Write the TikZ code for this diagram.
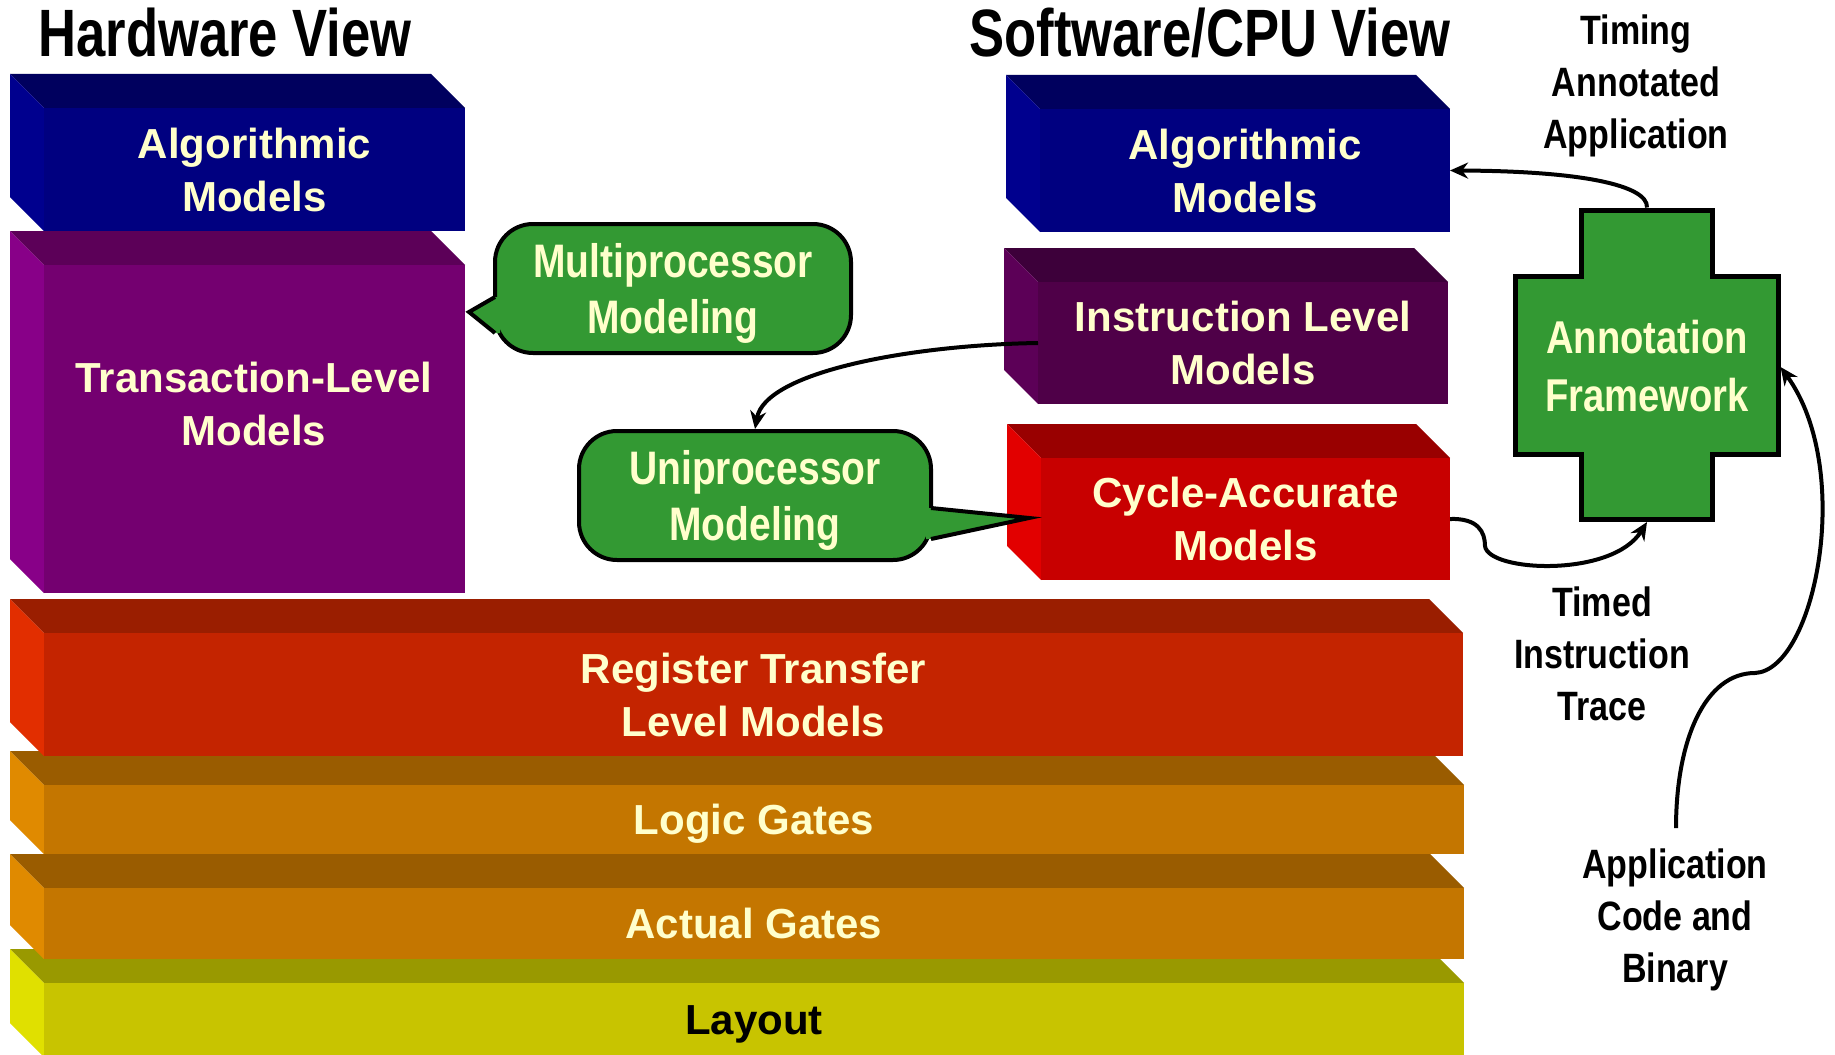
\documentclass[tikz,border=0pt]{standalone}
\usepackage{fontspec}
\setmainfont{Liberation Sans}
\newfontfamily\narrowsans{Liberation Sans}[FakeStretch=0.83]
\newfontfamily\titlesans{Liberation Sans}[FakeStretch=0.785]
\usetikzlibrary{arrows.meta}

\definecolor{txtyellow}{HTML}{FFFFCC}
\definecolor{grn}{HTML}{339933}
\definecolor{algF}{HTML}{000080}\definecolor{algT}{HTML}{00005E}\definecolor{algS}{HTML}{00008E}
\definecolor{tlmF}{HTML}{740070}\definecolor{tlmT}{HTML}{5C0058}\definecolor{tlmS}{HTML}{880088}
\definecolor{ilF}{HTML}{4F0048}\definecolor{ilT}{HTML}{3D003A}\definecolor{ilS}{HTML}{5C0057}
\definecolor{caF}{HTML}{C80000}\definecolor{caT}{HTML}{990000}\definecolor{caS}{HTML}{E20000}
\definecolor{rtlF}{HTML}{C42400}\definecolor{rtlT}{HTML}{9A1E00}\definecolor{rtlS}{HTML}{E22E00}
\definecolor{lgF}{HTML}{C47600}\definecolor{lgT}{HTML}{9A5C00}\definecolor{lgS}{HTML}{E08A00}
\definecolor{layF}{HTML}{C8C400}\definecolor{layT}{HTML}{999900}\definecolor{layS}{HTML}{E0E000}

\newcommand\lblBoxFont{\bfseries\fontsize{42}{53}\selectfont}
\newcommand\lblBubFont{\narrowsans\bfseries\fontsize{47}{56}\selectfont}
\newcommand\lblCrossFont{\narrowsans\bfseries\fontsize{46}{58}\selectfont}
\newcommand\lblNoteFont{\narrowsans\bfseries\fontsize{41}{52}\selectfont}
\newcommand\lblHeadFont{\titlesans\bfseries\fontsize{67}{70}\selectfont}

% 3-D slab: name, x0, y0, x1, y1, front, top, side, text (depth 34)
\newcommand\slab[9]{%
  \fill[#7] (#2,#3) -- (#4-34,#3) -- (#4,#3+34) -- (#2+34,#3+34) -- cycle;
  \fill[#8] (#2,#3) -- (#2+34,#3+34) -- (#2+34,#5) -- (#2,#5-34) -- cycle;
  \node[face, fill=#6, minimum width={#4-#2-34}, minimum height={#5-#3-34}]
    (#1) at ({(#2+34+#4)/2},{(#3+34+#5)/2}) {#9};
}

\begin{document}
\begin{tikzpicture}[x=1pt, y=-1pt, line join=miter,
  face/.style={inner sep=0pt, outer sep=0pt, text=txtyellow, font=\lblBoxFont,
    align=center, text depth=0pt},
  boxtxt/.style={inner sep=0pt, text=txtyellow, font=\lblBoxFont, align=center, text depth=0pt},
  bubble/.style={draw=black, line width=4pt, fill=grn, rounded corners=38pt,
    inner sep=0pt, text=txtyellow, font=\lblBubFont, align=center, text depth=0pt},
  ptredge/.style={draw=black, line width=4pt},
  crossbox/.style={draw=black, line width=5pt, fill=grn},
  crosstxt/.style={inner sep=0pt, text=txtyellow, font=\lblCrossFont, align=center, text depth=0pt},
  note/.style={inner sep=0pt, font=\lblNoteFont, align=center},
  headtxt/.style={inner sep=0pt, font=\lblHeadFont},
  conn/.style={draw=black, line width=4pt, -{Stealth[length=18pt,width=16pt]}}]

\path[use as bounding box, fill=white] (0,0) rectangle (1835,1054);
\clip (0,0) rectangle (1835,1054);

% headings
\node[headtxt, anchor=base] (hwtitle) at (225,57) {Hardware View};
\node[headtxt, anchor=base] (swtitle) at (1210,57) {Software/CPU View};

% hardware stack, lowest layer first
\slab{layout}{10}{949}{1464}{1057}{layF}{layT}{layS}{\color{black}Layout}
\slab{actual}{10}{854}{1464}{959}{lgF}{lgT}{lgS}{Actual Gates}
\slab{logic}{10}{751}{1464}{854}{lgF}{lgT}{lgS}{Logic Gates}
\slab{rtl}{10}{599}{1463}{756}{rtlF}{rtlT}{rtlS}{Register Transfer\\Level Models}
\slab{tlm}{10}{231}{465}{593}{tlmF}{tlmT}{tlmS}{}
\node[boxtxt] (tlmtxt) at (254,404) {Transaction-Level\\Models};
\slab{hwalg}{10}{74}{465}{231}{algF}{algT}{algS}{Algorithmic\\Models}

% software / CPU stack
\slab{swalg}{1006}{75}{1450}{232}{algF}{algT}{algS}{Algorithmic\\Models}
\slab{swil}{1004}{248}{1448}{404}{ilF}{ilT}{ilS}{Instruction Level\\Models}
\slab{swca}{1007}{424}{1450}{580}{caF}{caT}{caS}{Cycle-Accurate\\Models}

% callouts
\node[bubble, minimum width=356pt, minimum height=129pt] (mp) at (673,288.5) {Multiprocessor\\Modeling};
\fill[grn] (495,297) -- (469,312) -- (495,333) -- (500,333) -- (500,297) -- cycle;
\draw[ptredge] (495,297) -- (469,312) -- (495,333);

\node[bubble, minimum width=352pt, minimum height=129pt] (uni) at (755,495.5) {Uniprocessor\\Modeling};
\fill[grn] (931,508) -- (1029,518) -- (931,539) -- (926,539) -- (926,508) -- cycle;
\draw[ptredge] (931,508) -- (1029,518) -- (931,539);

% annotation framework cross
\filldraw[crossbox] (1581,210) -- (1712,210) -- (1712,276) -- (1778,276) -- (1778,454)
  -- (1712,454) -- (1712,519.5) -- (1581,519.5) -- (1581,454) -- (1515,454)
  -- (1515,276) -- (1581,276) -- cycle;
\node[crosstxt] (af) at (1647,366) {Annotation\\Framework};
\coordinate (aftop) at (1647,207.5);
\coordinate (afbottom) at (1647,522);
\coordinate (afright) at (1780.5,367);

% side notes
\node[note, anchor=north] (tanno) at (1636,15) {Timing\\Annotated\\Application};
\node[note, anchor=north] (trace) at (1602,587) {Timed\\Instruction\\Trace};
\node[note, anchor=north] (appcode) at (1675,849) {Application\\Code and\\Binary};
\coordinate (appin) at (1676,828);

% connectors
\draw[conn] (swil.west) .. controls (910,345) and (765,372) .. (uni.north);
\draw[conn] (aftop) .. controls (1648,185) and (1580,171) .. (swalg.east);
\draw[conn] (swca.east) .. controls (1478,518) and (1485,532) .. (1485,546)
  .. controls (1488,572) and (1612,578) .. (afbottom);
\draw[conn] (appin) .. controls (1676,740) and (1705,673) .. (1755,673)
  .. controls (1815,670) and (1855,470) .. (afright);
\end{tikzpicture}
\end{document}
